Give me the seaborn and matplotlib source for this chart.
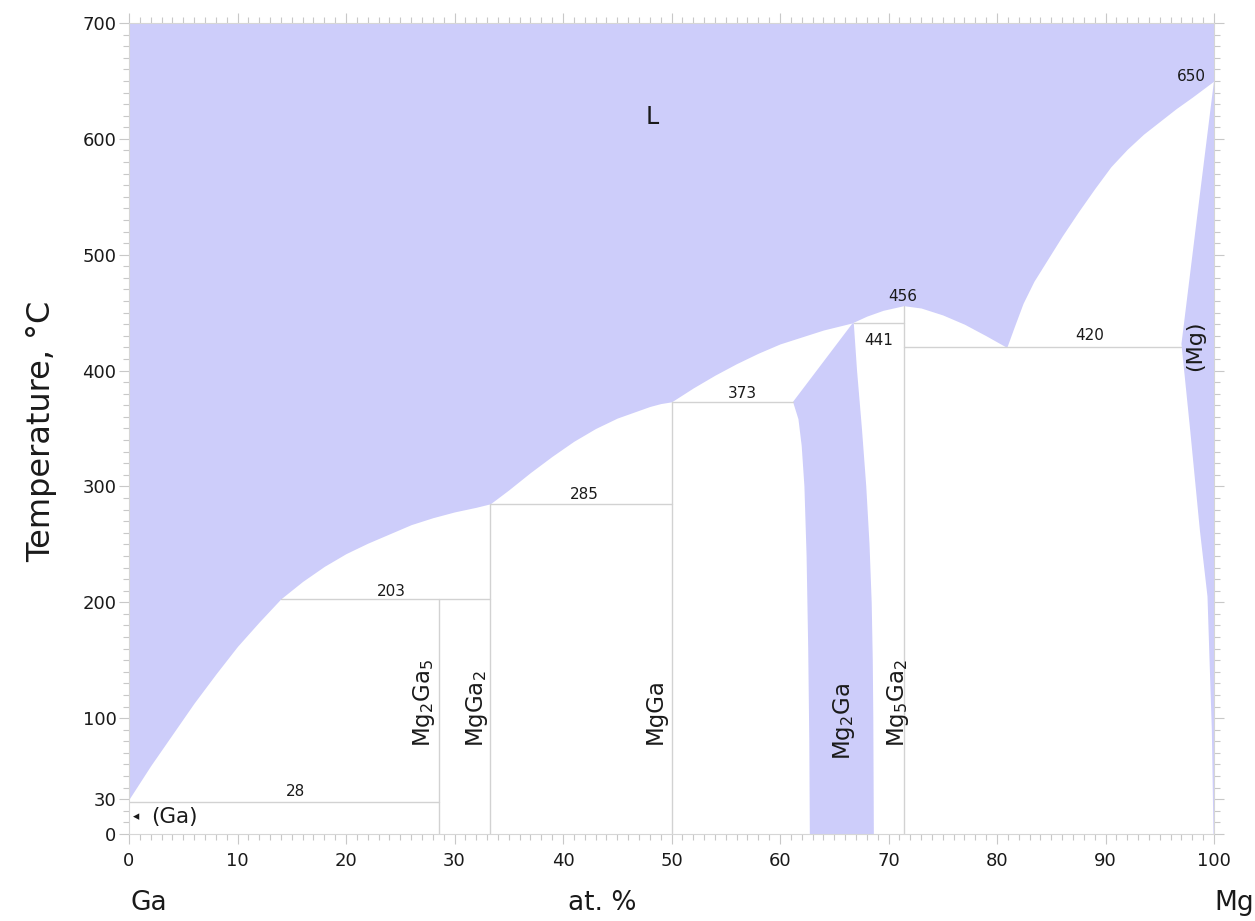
import numpy as np
import pandas as pd
import matplotlib
matplotlib.use("Agg")
import matplotlib.pyplot as plt
from matplotlib.ticker import MultipleLocator, FixedLocator
import seaborn as sns

# ---- phase boundaries (x = at.% Mg, T = deg C) ----
# liquidus from pure Ga to pure Mg
liq_x = [0, 2, 4, 6, 8, 10, 12, 14, 16, 18, 20, 22, 24, 26, 28, 30, 32, 33.3,
         35, 37, 39, 41, 43, 45, 46.5, 48, 49, 50,
         52, 54, 56, 58, 60, 62, 64, 66.6,
         68, 69.5, 71.4, 73, 75, 77, 79, 80.9,
         81.6, 82.4, 83.4, 84.6, 86, 87.5, 89, 90.5, 92, 93.5, 95, 96.5, 98, 99, 100]
liq_T = [30, 59, 86, 113, 138, 162, 183, 203, 218, 231, 242, 251, 259, 267, 273, 278, 282, 285,
         297, 312, 326, 339, 350, 359, 364, 369, 371.5, 373,
         385, 396, 406, 415, 423, 429, 435, 441,
         447, 452, 456, 454, 448, 440, 430, 420,
         438, 458, 477, 495, 516, 537, 557, 576, 591, 604, 615, 626, 636, 643, 650]

# Mg2Ga homogeneity range
mg2ga_left_x = [62.75, 62.7, 62.6, 62.45, 62.25, 62.0, 61.7, 61.2, 66.7]
mg2ga_left_T = [0, 80, 160, 240, 300, 335, 358, 373, 441]
mg2ga_right_x = [66.8, 67.1, 67.55, 67.95, 68.25, 68.45, 68.55, 68.6, 68.65]
mg2ga_right_T = [441, 400, 350, 300, 250, 200, 150, 100, 0]

# (Mg) solid solution: solidus then solvus
mg_x = [100, 98.5, 97.0, 97.8, 98.7, 99.4, 99.6, 99.8, 99.95, 100]
mg_T = [650, 537, 423, 349, 262, 205, 147, 90, 0, 0]

# invariant reactions: temperature, x start, x end
inv_T = [28, 203, 285, 373, 441, 420]
inv_x0 = [0, 14.0, 33.3, 50.0, 66.8, 71.4]
inv_x1 = [28.6, 33.3, 50.0, 61.2, 71.4, 97.0]

# line compounds: composition and top temperature
cmp_x = [28.6, 33.3, 50.0, 71.4]
cmp_T = [203, 285, 373, 456]

# phase names
phase_names = ["Mg$_2$Ga$_5$", "MgGa$_2$", "MgGa", "Mg$_2$Ga", "Mg$_5$Ga$_2$"]
phase_x = [27.2, 32.1, 48.5, 65.9, 70.9]
phase_T = [75, 75, 78, 64, 75]

# temperature labels
temp_text = ["650", "456", "441", "420", "373", "285", "203", "28"]
temp_x = [97.9, 71.3, 69.1, 88.5, 56.5, 42.0, 24.2, 15.3]
temp_T = [654, 464, 426, 430, 380, 293, 209, 37]

x_ticks = list(range(0, 101, 10))
y_ticks = [0, 30, 100, 200, 300, 400, 500, 600, 700]

FILL = "#cdcdfa"
GRID = "#d2d2d2"
TXT = "#1a1a1a"

sns.set_style("white")
plt.rcParams["font.family"] = ["DejaVu Sans"]

fig = plt.figure(figsize=(12.55, 9.21), dpi=100)
ax = fig.add_axes([129 / 1255, 87 / 921, 1085 / 1255, 811 / 921])

# single-phase regions
ax.fill_between(liq_x, liq_T, 700, color=FILL, lw=0, zorder=1)
ax.fill(mg2ga_left_x + mg2ga_right_x, mg2ga_left_T + mg2ga_right_T,
        color=FILL, lw=0, zorder=1)
ax.fill(mg_x, mg_T, color=FILL, lw=0, zorder=1)

# invariant horizontals and compound verticals as segments
rows = []
for i, (t, a, b) in enumerate(zip(inv_T, inv_x0, inv_x1)):
    rows += [(f"h{i}", a, t), (f"h{i}", b, t)]
for i, (c, t) in enumerate(zip(cmp_x, cmp_T)):
    rows += [(f"v{i}", c, 0), (f"v{i}", c, t)]
seg = pd.DataFrame(rows, columns=["seg", "x", "T"])
sns.lineplot(data=seg, x="x", y="T", units="seg", estimator=None, sort=False,
             color=GRID, lw=1.0, ax=ax, zorder=2, legend=False)

# labels
ax.text(48.2, 619, "L", fontsize=17, color=TXT, ha="center", va="center")
for s, x, t in zip(temp_text, temp_x, temp_T):
    ax.text(x, t, s, fontsize=11, color=TXT, ha="center", va="center", zorder=3)
for s, x, t in zip(phase_names, phase_x, phase_T):
    ax.text(x, t, s, fontsize=16.5, color=TXT, rotation=90, ha="center",
            va="bottom", zorder=3)
ax.text(98.3, 421, "(Mg)", fontsize=16, color=TXT, rotation=90,
        ha="center", va="center", zorder=3)
ax.text(0.4, 15, "◂", fontsize=9, color=TXT, ha="left", va="center")
ax.text(2.0, 15, "(Ga)", fontsize=15.5, color=TXT, ha="left", va="center")

ax.set_xlim(0, 100)
ax.set_ylim(0, 700)
ax.xaxis.set_major_locator(FixedLocator(x_ticks))
ax.xaxis.set_minor_locator(MultipleLocator(1))
ax.yaxis.set_major_locator(FixedLocator(y_ticks))
ax.yaxis.set_minor_locator(MultipleLocator(10))
ax.tick_params(which="both", direction="out", color="#c8c8c8", width=0.8,
               top=True, right=True, bottom=True, left=True,
               labeltop=False, labelright=False)
ax.tick_params(which="major", length=7)
ax.tick_params(which="minor", length=4)
ax.tick_params(axis="x", which="major", labelsize=13, pad=6, labelcolor=TXT)
ax.tick_params(axis="y", which="major", labelsize=13, pad=2, labelcolor=TXT)
ax.set_xlabel("")
ax.set_ylabel("")
for sp in ax.spines.values():
    sp.set_color("#d6d6d6")
    sp.set_linewidth(0.8)

fig.text(0.0335, 0.532, "Temperature, °C", rotation=90, fontsize=23,
         color=TXT, ha="center", va="center")
fig.text(602 / 1255, 0.0195, "at. %", fontsize=19, color=TXT, ha="center", va="center")
fig.text(130 / 1255, 0.0195, "Ga", fontsize=19, color=TXT, ha="left", va="center")
fig.text(1214 / 1255, 0.0195, "Mg", fontsize=19, color=TXT, ha="left", va="center")

fig.savefig("out.png", dpi=100, facecolor="white")
